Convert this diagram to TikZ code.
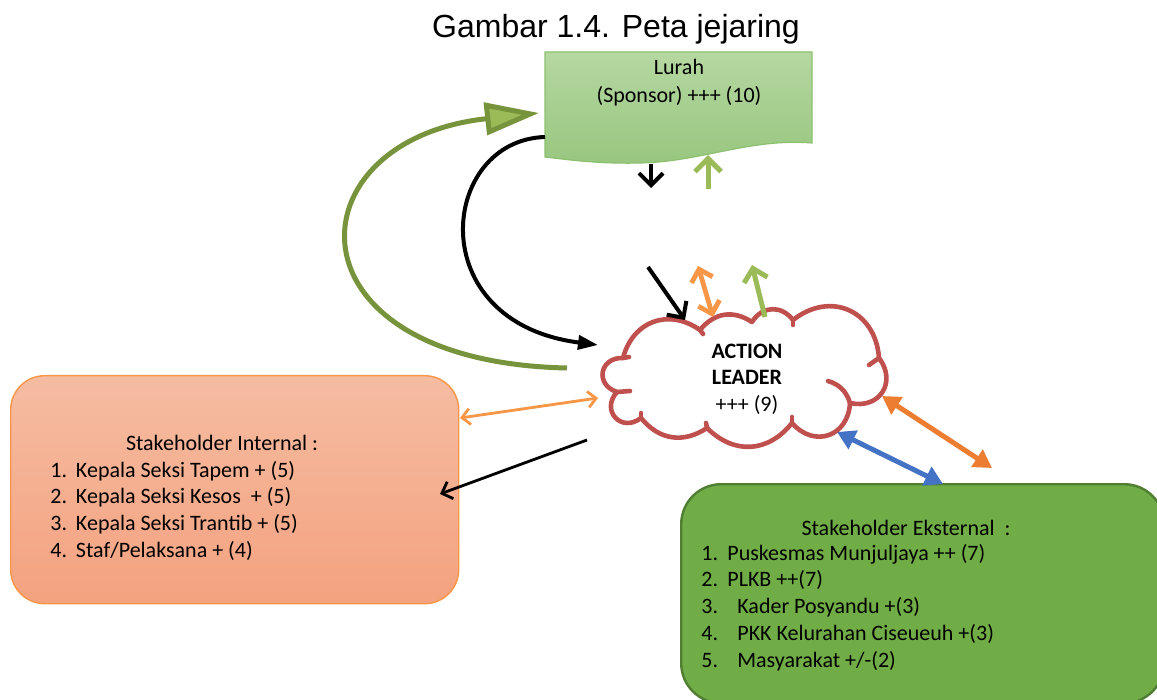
\documentclass[tikz,border=0pt]{standalone}
\usepackage{fontspec}
\setmainfont{Carlito}
\newfontfamily\titlefont{Liberation Sans}
\usetikzlibrary{arrows.meta}

\definecolor{lurahtop}{HTML}{B5D8A1}
\definecolor{lurahbot}{HTML}{98C67F}
\definecolor{lurahline}{HTML}{8CC16F}
\definecolor{inttop}{HTML}{F5BCA2}
\definecolor{intbot}{HTML}{F4A27F}
\definecolor{intline}{HTML}{F79646}
\definecolor{extfill}{HTML}{70AD47}
\definecolor{extline}{HTML}{507E32}
\definecolor{cloudred}{HTML}{C0504D}
\definecolor{olivegreen}{HTML}{77933C}
\definecolor{olivehead}{HTML}{9BBB59}
\definecolor{lightgreen}{HTML}{9BBB59}
\definecolor{lightorange}{HTML}{F79646}
\definecolor{darkorange}{HTML}{ED7D31}
\definecolor{linkblue}{HTML}{4472C4}

\tikzset{
  bodytext/.style={font=\fontsize{11}{13.4}\selectfont},
  cloudline/.style={draw=cloudred, line width=2.3pt, line cap=round, line join=round},
  chevron/.style={-{Straight Barb[length=#1*0.5,width=#1]}},
  twochevron/.style={{Straight Barb[length=#1*0.5,width=#1]}-{Straight Barb[length=#1*0.5,width=#1]}},
  twotriangle/.style={{Triangle[length=9pt,width=10pt]}-{Triangle[length=9pt,width=10pt]}},
}

\begin{document}
\begin{tikzpicture}[x=0.5pt,y=-0.5pt]
\useasboundingbox (0,0) rectangle (1157,700);

% title
\node[font=\titlefont\fontsize{16}{19}\selectfont, anchor=base, inner sep=0pt] (title) at (616,38) {Gambar 1.4. Peta jejaring};

% Lurah: document shape with a wavy lower edge
\path[draw=lurahline, line width=0.6pt, top color=lurahtop, bottom color=lurahbot]
  (545,52) -- (812,52) -- (812,143)
  .. controls (750,138) and (700,162) .. (640,163)
  .. controls (600,164) and (570,160) .. (545,157) -- cycle;
\node[bodytext, anchor=base, inner sep=0pt] (lurah) at (679,75)
  {\begin{tabular}[t]{@{}c@{}}Lurah\\[0.6pt](Sponsor) +++ (10)\end{tabular}};

% internal stakeholders
\node[draw=intline, line width=0.7pt, top color=inttop, bottom color=intbot,
      rounded corners=17pt, minimum width=224pt, minimum height=114pt,
      anchor=north west, inner sep=0pt] (internal) at (10,375) {};
\node[bodytext, anchor=base, inner sep=0pt] (inthead) at (222,450) {Stakeholder Internal :};
\node[bodytext, anchor=base west, inner sep=0pt] (intlist) at (50,477)
  {\begin{tabular}[t]{@{}l@{}}
   \makebox[12.8pt][l]{1.}Kepala Seksi Tapem + (5)\\
   \makebox[12.8pt][l]{2.}Kepala Seksi Kesos \ + (5)\\
   \makebox[12.8pt][l]{3.}Kepala Seksi Trantib + (5)\\
   \makebox[12.8pt][l]{4.}Staf/Pelaksana + (4)
   \end{tabular}};

% external stakeholders
\node[draw=extline, line width=1.2pt, fill=extfill,
      rounded corners=20pt, minimum width=241.5pt, minimum height=109.5pt,
      anchor=north west, inner sep=0pt] (external) at (680,483) {};
\node[bodytext, anchor=base, inner sep=0pt] (exthead) at (906,535) {Stakeholder Eksternal \ :};
\node[bodytext, anchor=base west, inner sep=0pt] (extlist) at (701,560)
  {\begin{tabular}[t]{@{}l@{}}
   \makebox[13pt][l]{1.}Puskesmas Munjuljaya ++ (7)\\
   \makebox[13pt][l]{2.}PLKB ++(7)\\
   \makebox[18pt][l]{3.}Kader Posyandu +(3)\\
   \makebox[18pt][l]{4.}PKK Kelurahan Ciseueuh +(3)\\
   \makebox[18pt][l]{5.}Masyarakat +/-(2)
   \end{tabular}};

% action leader cloud: ten puffs joined at these points
\coordinate (c1)  at (623,358);
\coordinate (c2)  at (700,330);
\coordinate (c3)  at (752,322);
\coordinate (c4)  at (793,320);
\coordinate (c5)  at (879,358);
\coordinate (c6)  at (850,403);
\coordinate (c7)  at (792,423);
\coordinate (c8)  at (707,428);
\coordinate (c9)  at (641,418);
\coordinate (c10) at (617,392);
\path[cloudline, fill=white]
  (c1) to[bend left=55, looseness=1.2] (c2)
       to[bend left=42, looseness=1.1] (c3)
       to[bend left=55, looseness=1.2] (c4)
       to[bend left=62, looseness=1.3] (c5)
       to[bend left=70, looseness=1.45] (c6)
       to[bend left=68, looseness=1.4] (c7)
       to[bend left=48, looseness=1.15] (c8)
       to[bend left=42, looseness=1.1] (c9)
       to[bend left=85, looseness=1.8] (c10)
       to[bend left=82, looseness=1.75] (c1) -- cycle;
% inner strokes where the puffs meet
\draw[cloudline] (c1) -- ++(6,-1);
\draw[cloudline] (c2) -- ++(3,4);
\draw[cloudline] (c4) -- ++(0,5);
\draw[cloudline] (c5) -- ++(-10,7);
\draw[cloudline] (c6) .. controls (846,390) and (838,384) .. (828,381);
\draw[cloudline] (c7) -- ++(0,-6);
\draw[cloudline] (c8) -- ++(-1,-5);
\draw[cloudline] (c9) -- ++(0,-5);
\draw[cloudline] (c10) -- ++(13,-1);
\node[bodytext, anchor=base, inner sep=0pt] (leadertext) at (747,358)
  {\begin{tabular}[t]{@{}c@{}}\textbf{ACTION}\\\textbf{LEADER}\\+++ (9)\end{tabular}};

% connector end points
\coordinate (oliveS) at (567,368);
\coordinate (oliveE) at (539,113);
\coordinate (blackS) at (545,137);
\coordinate (blackE) at (598,345);
\coordinate (downS) at (651,164);
\coordinate (downE) at (651,188);
\coordinate (upS)   at (708,189);
\coordinate (upE)   at (708,155);
\coordinate (inS)   at (648,267);
\coordinate (inE)   at (685,320);
\coordinate (oraA)  at (698,266);
\coordinate (oraB)  at (713,317);
\coordinate (grnS)  at (765,317);
\coordinate (grnE)  at (752,265);
\coordinate (intA)  at (460,418);
\coordinate (intB)  at (598,398);
\coordinate (toIntS) at (587,440);
\coordinate (toIntE) at (440,494);
\coordinate (extA)  at (882,396);
\coordinate (extB)  at (992,468);
\coordinate (bluA)  at (837,432);
\coordinate (bluB)  at (943,484);

% big loops between the cloud and the sponsor
\draw[olivegreen, line width=2.5pt,
      -{Triangle[length=27pt,width=16pt,fill=olivehead]}]
  (oliveS) .. controls (280,362) and (290,140) .. (oliveE);
\draw[black, line width=2pt, -{Triangle[length=10pt,width=7pt]}]
  (blackS) .. controls (440,140) and (420,322) .. (blackE);

% short arrows
\draw[black, line width=2pt, chevron=12pt] (downS) -- (downE);
\draw[lightgreen, line width=2.5pt, chevron=13pt] (upS) -- (upE);
\draw[black, line width=2pt, chevron=12pt] (inS) -- (inE);
\draw[lightorange, line width=2.4pt, twochevron=11pt] (oraA) -- (oraB);
\draw[lightgreen, line width=2.5pt, chevron=12pt] (grnS) -- (grnE);
\draw[lightorange, line width=1.4pt, twochevron=8pt] (intA) -- (intB);
\draw[black, line width=1.4pt, chevron=9pt] (toIntS) -- (toIntE);
\draw[darkorange, line width=2.5pt, twotriangle] (extA) -- (extB);
\draw[linkblue, line width=2.5pt, twotriangle] (bluA) -- (bluB);
\end{tikzpicture}
\end{document}
